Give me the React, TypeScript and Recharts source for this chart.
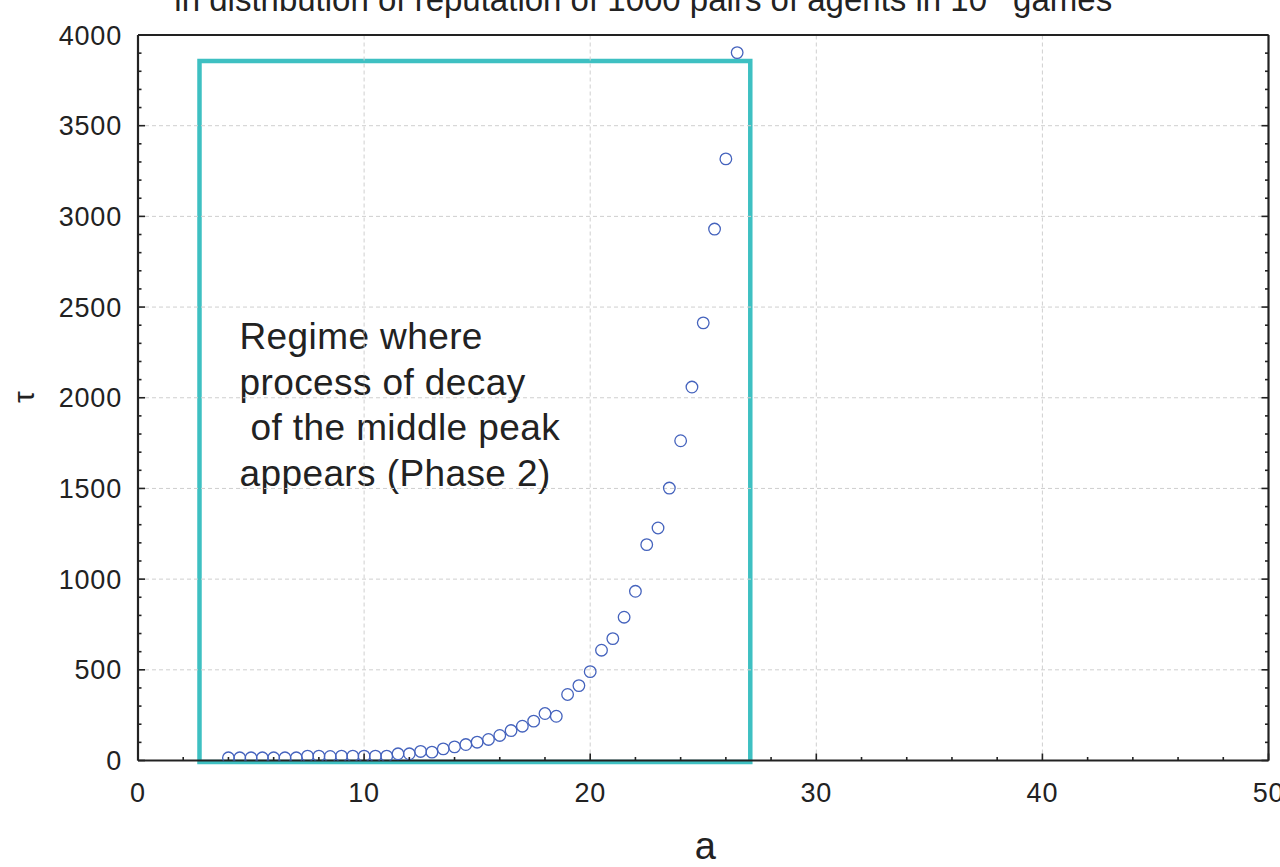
import React from 'react';
import {
  ScatterChart,
  Scatter,
  XAxis,
  YAxis,
  ReferenceLine,
  ReferenceArea,
} from 'recharts';

// Parameter a and the measured relaxation time tau for each run
const A_VALUES = [
  4, 4.5, 5, 5.5, 6, 6.5, 7, 7.5, 8, 8.5, 9, 9.5, 10, 10.5, 11, 11.5, 12, 12.5,
  13, 13.5, 14, 14.5, 15, 15.5, 16, 16.5, 17, 17.5, 18, 18.5, 19, 19.5, 20,
  20.5, 21, 21.5, 22, 22.5, 23, 23.5, 24, 24.5, 25, 25.5, 26, 26.5,
];
const TAU_VALUES = [
  15, 15, 15, 15, 15, 15, 15, 24, 24, 22, 24, 24, 24, 24, 24, 37, 37, 50, 46,
  64, 75, 88, 101, 116, 138, 165, 189, 217, 259, 244, 364, 413, 490, 608, 672,
  790, 933, 1190, 1282, 1502, 1763, 2059, 2413, 2930, 3317, 3903,
];

const X_MAJOR = [0, 10, 20, 30, 40, 50];
const X_TICKS = [
  0, 2, 4, 6, 8, 10, 12, 14, 16, 18, 20, 22, 24, 26, 28, 30, 32, 34, 36, 38,
  40, 42, 44, 46, 48, 50,
];
const Y_MAJOR = [0, 500, 1000, 1500, 2000, 2500, 3000, 3500, 4000];
const Y_TICKS = [
  0, 100, 200, 300, 400, 500, 600, 700, 800, 900, 1000, 1100, 1200, 1300, 1400,
  1500, 1600, 1700, 1800, 1900, 2000, 2100, 2200, 2300, 2400, 2500, 2600, 2700,
  2800, 2900, 3000, 3100, 3200, 3300, 3400, 3500, 3600, 3700, 3800, 3900, 4000,
];

// Phase 2 regime box (in a / tau units)
const REGIME_A = [2.72, 27.08];
const REGIME_TAU = [-8, 3857];
const REGIME_LINES = [
  'Regime where',
  'process of decay',
  'of the middle peak',
  'appears (Phase 2)',
];

const TITLE_MAIN = 'in distribution of reputation of 1000 pairs of agents in 10';
const TITLE_END = 'games';

const points = A_VALUES.map((a, i) => ({ a, tau: TAU_VALUES[i] }));

const FONT = '"Liberation Sans", Arial, Helvetica, sans-serif';
const INK = '#222222';
const TICK_FONT = 27;
const MAJOR_LEN = 7;
const MINOR_LEN = 3.5;

const isMajorX = (v: number) => X_MAJOR.includes(v);
const isMajorY = (v: number) => Y_MAJOR.includes(v);

const BottomTick = (props: any) => {
  const { x, y, payload } = props;
  const v = payload.value;
  const major = isMajorX(v);
  return (
    <g>
      <line
        x1={x}
        x2={x}
        y1={y}
        y2={y - (major ? MAJOR_LEN : MINOR_LEN)}
        stroke={INK}
        strokeWidth={1.6}
      />
      {major && (
        <text
          x={x}
          y={y + 41}
          textAnchor="middle"
          fontSize={TICK_FONT}
          letterSpacing={0.8}
          fontFamily={FONT}
          fill={INK}
        >
          {v}
        </text>
      )}
    </g>
  );
};

const TopTick = (props: any) => {
  const { x, y, payload } = props;
  const major = isMajorX(payload.value);
  return (
    <line
      x1={x}
      x2={x}
      y1={y}
      y2={y + (major ? MAJOR_LEN : MINOR_LEN)}
      stroke={INK}
      strokeWidth={1.6}
    />
  );
};

const LeftTick = (props: any) => {
  const { x, y, payload } = props;
  const v = payload.value;
  const major = isMajorY(v);
  return (
    <g>
      <line
        x1={x}
        x2={x + (major ? MAJOR_LEN : MINOR_LEN)}
        y1={y}
        y2={y}
        stroke={INK}
        strokeWidth={1.6}
      />
      {major && (
        <text
          x={x - 16}
          y={y + 9.5}
          textAnchor="end"
          fontSize={TICK_FONT}
          letterSpacing={0.8}
          fontFamily={FONT}
          fill={INK}
        >
          {v}
        </text>
      )}
    </g>
  );
};

const RightTick = (props: any) => {
  const { x, y, payload } = props;
  const major = isMajorY(payload.value);
  return (
    <line
      x1={x}
      x2={x - (major ? MAJOR_LEN : MINOR_LEN)}
      y1={y}
      y2={y}
      stroke={INK}
      strokeWidth={1.6}
    />
  );
};

const TitleLabel = (props: any) => {
  const { x, width } = props.viewBox;
  return (
    <text
      x={x + width / 2 - 60}
      y={11}
      textAnchor="middle"
      fontSize={33}
      fontFamily={FONT}
      fill={INK}
    >
      {TITLE_MAIN}
      <tspan dx={26}>{TITLE_END}</tspan>
    </text>
  );
};

const TauLabel = () => (
  <text
    x={23}
    y={397}
    transform="rotate(-90 23 397)"
    textAnchor="middle"
    dominantBaseline="central"
    fontSize={30}
    fontFamily={FONT}
    fill={INK}
  >
    τ
  </text>
);

const ALabel = (props: any) => {
  const { x, width } = props.viewBox;
  return (
    <text
      x={x + width / 2 + 2}
      y={859}
      textAnchor="middle"
      fontSize={38}
      fontFamily={FONT}
      fill={INK}
    >
      a
    </text>
  );
};

const RegimeNote = (props: any) => {
  const { x, y } = props.viewBox;
  return (
    <text
      fontSize={37}
      letterSpacing={0.4}
      fontFamily={FONT}
      fill={INK}
      y={y + 288}
    >
      {REGIME_LINES.map((line, i) => (
        <tspan key={i} x={x + 40 + (i === 2 ? 11 : 0)} dy={i === 0 ? 0 : 45.7}>
          {line}
        </tspan>
      ))}
    </text>
  );
};

const OpenCircle = (props: any) => {
  const { cx, cy } = props;
  return (
    <circle
      cx={cx}
      cy={cy}
      r={5.8}
      fill="none"
      stroke="#4563bd"
      strokeWidth={1.3}
    />
  );
};

export default function App() {
  return (
    <div style={{ position: 'absolute', left: 0, top: 0, width: 1280, height: 867, background: '#fff' }}>
      <ScatterChart
        width={1280}
        height={867}
        margin={{ top: 0, right: 0, bottom: 46.5, left: 8 }}
      >
        <XAxis
          type="number"
          dataKey="a"
          domain={[0, 50]}
          ticks={X_TICKS}
          interval={0}
          allowDataOverflow
          height={60}
          tickSize={0}
          tickMargin={0}
          tickLine={false}
          tick={<BottomTick />}
          axisLine={{ stroke: INK, strokeWidth: 2.2 }}
          label={ALabel}
        />
        <XAxis
          xAxisId="top"
          orientation="top"
          type="number"
          domain={[0, 50]}
          ticks={X_TICKS}
          interval={0}
          allowDataOverflow
          height={35}
          tickSize={0}
          tickMargin={0}
          tickLine={false}
          tick={<TopTick />}
          axisLine={{ stroke: INK, strokeWidth: 2.2 }}
          label={TitleLabel}
        />
        <YAxis
          type="number"
          dataKey="tau"
          domain={[0, 4000]}
          ticks={Y_TICKS}
          interval={0}
          allowDataOverflow
          width={130}
          tickSize={0}
          tickMargin={0}
          tickLine={false}
          tick={<LeftTick />}
          axisLine={{ stroke: INK, strokeWidth: 2.2 }}
          label={TauLabel}
        />
        <YAxis
          yAxisId="right"
          orientation="right"
          type="number"
          domain={[0, 4000]}
          ticks={Y_TICKS}
          interval={0}
          allowDataOverflow
          width={11.5}
          tickSize={0}
          tickMargin={0}
          tickLine={false}
          tick={<RightTick />}
          axisLine={{ stroke: INK, strokeWidth: 2.2 }}
        />
        {X_MAJOR.slice(1, -1).map((v) => (
          <ReferenceLine
            key={`vx${v}`}
            x={v}
            stroke="#cfcfcf"
            strokeWidth={1}
            strokeDasharray="4 3"
          />
        ))}
        {Y_MAJOR.slice(1, -1).map((v) => (
          <ReferenceLine
            key={`hy${v}`}
            y={v}
            stroke="#cfcfcf"
            strokeWidth={1}
            strokeDasharray="4 3"
          />
        ))}
        <ReferenceArea
          x1={REGIME_A[0]}
          x2={REGIME_A[1]}
          y1={REGIME_TAU[0]}
          y2={REGIME_TAU[1]}
          ifOverflow="visible"
          fill="none"
          fillOpacity={0}
          stroke="#3ec0c2"
          strokeWidth={4.5}
          label={RegimeNote}
        />
        <Scatter
          data={points}
          shape={<OpenCircle />}
          isAnimationActive={false}
        />
      </ScatterChart>
    </div>
  );
}
